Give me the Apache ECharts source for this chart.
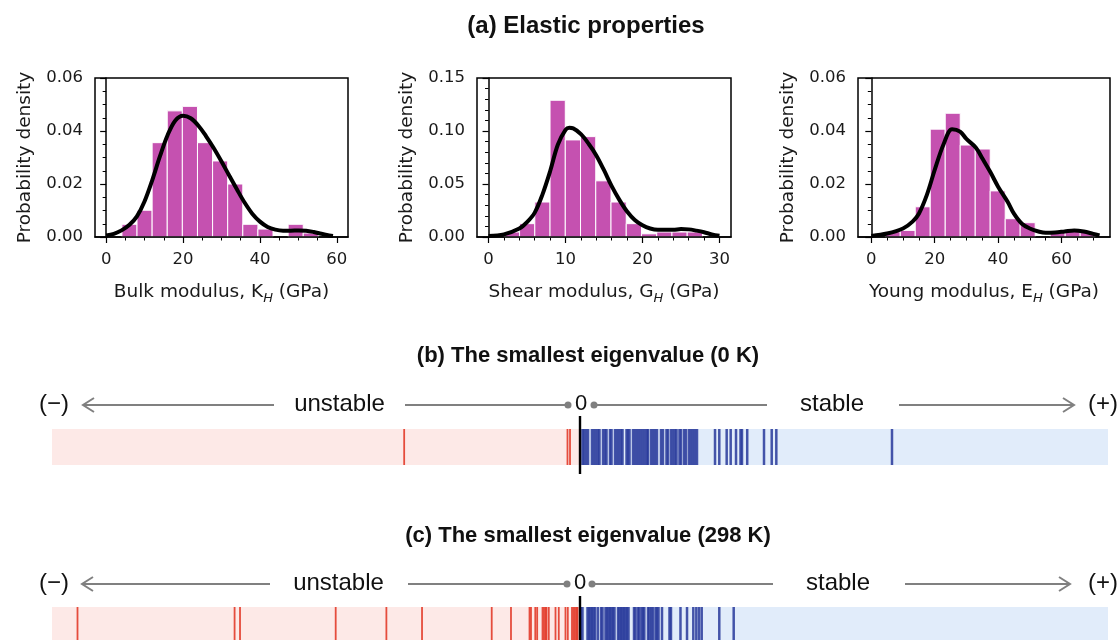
<!DOCTYPE html>
<html>
<head>
<meta charset="utf-8">
<script src="https://cdn.jsdelivr.net/npm/echarts@6/dist/echarts.min.js"></script>
<style>
  html, body { margin: 0; padding: 0; background: #fff; }
  #chart { width: 1118px; height: 640px; }
</style>
</head>
<body>
<div id="chart"></div>
<script>
// Histogram bin edges and densities
const bulkEdges = [4.1, 8.03, 11.96, 15.89, 19.82, 23.75, 27.68, 31.61, 35.54, 39.47, 43.4, 47.33, 51.26, 55.19];
const bulkDensity = [0.0048, 0.0101, 0.0356, 0.0476, 0.0493, 0.0356, 0.0287, 0.0200, 0.0048, 0.0030, 0, 0.0048, 0.0015];
const bulkKdeX = [0, 2, 4, 6, 8, 10, 12, 14, 16, 18, 20, 22, 24, 26, 28, 30, 32, 34, 36, 38, 40, 42, 44, 46, 48, 50, 52, 54, 56, 58, 59];
const bulkKdeY = [0.0006, 0.0012, 0.0025, 0.0045, 0.0078, 0.0135, 0.0215, 0.0305, 0.0385, 0.0440, 0.0458, 0.0448, 0.0420, 0.0380, 0.0335, 0.0285, 0.0232, 0.0180, 0.0130, 0.0088, 0.0058, 0.0038, 0.0028, 0.0024, 0.0024, 0.0025, 0.0024, 0.0019, 0.0012, 0.0006, 0.0004];

const shearEdges = [2.05, 4.03, 6.01, 7.99, 9.97, 11.95, 13.93, 15.91, 17.89, 19.87, 21.85, 23.83, 25.81, 27.79];
const shearDensity = [0.0047, 0.0126, 0.033, 0.129, 0.0916, 0.0947, 0.053, 0.033, 0.0126, 0.003, 0.0047, 0.0047, 0.0047];
const shearKdeX = [0, 2, 4, 5, 6, 7, 8, 9, 10, 10.5, 11, 12, 13, 14, 15, 16, 17, 18, 19, 20, 21, 22, 24, 25, 26, 27, 28, 29, 30];
const shearKdeY = [0.001, 0.0025, 0.008, 0.014, 0.023, 0.040, 0.062, 0.087, 0.101, 0.103, 0.1025, 0.097, 0.088, 0.077, 0.063, 0.048, 0.035, 0.024, 0.016, 0.011, 0.008, 0.0068, 0.0068, 0.0075, 0.0072, 0.006, 0.0045, 0.0025, 0.0012];

const youngEdges = [4.4, 9.13, 13.86, 18.59, 23.32, 28.05, 32.78, 37.51, 42.24, 46.97, 51.7, 56.43, 61.16, 65.89, 70.62];
const youngDensity = [0.002, 0.0025, 0.0114, 0.0407, 0.0467, 0.0347, 0.0332, 0.0174, 0.0069, 0.0054, 0, 0.0019, 0.0023, 0.0019];
const youngKdeX = [0, 5, 10, 13, 15, 17.5, 20, 22.8, 25.5, 28, 30, 33, 35, 37.5, 40, 43, 45, 47.5, 50, 53, 55, 58, 61, 64, 67, 70, 72];
const youngKdeY = [0.0004, 0.0013, 0.0032, 0.0058, 0.0088, 0.0158, 0.0253, 0.035, 0.0407, 0.0398, 0.037, 0.0337, 0.0297, 0.0246, 0.019, 0.0133, 0.0088, 0.005, 0.0032, 0.002, 0.0016, 0.0017, 0.0021, 0.0025, 0.0021, 0.0012, 0.0006];

// Smallest eigenvalues, position on a -100..100 scale
const eig0KUnstable = [-33.3, -2.37, -1.89];
const eig0KStable = [0.47, 0.76, 1.14, 1.52, 2.27, 2.65, 3.03, 3.41, 3.69, 4.36, 4.73, 5.02, 5.68, 5.97, 6.63, 7.01, 7.39, 7.77, 8.05, 8.81, 9.09, 9.38, 10.04, 10.42, 10.80, 11.17, 11.55, 11.93, 12.31, 12.69, 12.88, 13.45, 13.83, 14.20, 14.58, 15.34, 15.72, 16.38, 16.67, 17.23, 17.61, 17.99, 18.28, 18.84, 19.13, 19.70, 20.08, 20.64, 21.02, 21.40, 21.78, 22.16, 25.57, 26.38, 27.78, 28.54, 29.55, 30.40, 30.68, 31.67, 34.85, 36.31, 37.18, 59.09];
const eig298KUnstable = [-95.17, -65.42, -64.39, -46.27, -36.67, -29.92, -16.72, -13.07, -9.56, -9.28, -8.47, -8.11, -7.10, -6.82, -6.53, -6.34, -5.91, -4.64, -4.02, -2.75, -2.31, -1.52, -1.23, -0.95, -0.66, -0.47];
const eig298KStable = [0.15, 0.47, 1.42, 1.70, 1.99, 2.27, 2.56, 2.84, 3.37, 3.98, 4.26, 4.83, 5.11, 5.40, 5.68, 5.97, 6.25, 6.53, 7.20, 7.48, 7.77, 8.05, 8.33, 8.62, 8.90, 9.19, 10.23, 10.51, 10.98, 11.23, 11.65, 11.93, 12.18, 12.88, 13.13, 13.50, 13.79, 14.30, 14.58, 14.87, 15.53, 16.95, 17.23, 19.03, 20.27, 21.46, 22.03, 22.54, 23.05, 26.38, 29.11];

const panels = [
    { edges: bulkEdges, dens: bulkDensity, kx: bulkKdeX, ky: bulkKdeY, left: 95, width: 253,
      xmin: -2.9, xmax: 62.9, xMajor: [0, 20, 40, 60], xMinor: [5, 10, 15, 25, 30, 35, 45, 50, 55],
      ymax: 0.06, yInt: 0.02, ySplit: 4, sym: 'K' },
    { edges: shearEdges, dens: shearDensity, kx: shearKdeX, ky: shearKdeY, left: 477, width: 254,
      xmin: -1.5, xmax: 31.5, xMajor: [0, 10, 20, 30], xMinor: [2, 4, 6, 8, 12, 14, 16, 18, 22, 24, 26, 28],
      ymax: 0.15, yInt: 0.05, ySplit: 5, sym: 'G' },
    { edges: youngEdges, dens: youngDensity, kx: youngKdeX, ky: youngKdeY, left: 858, width: 252,
      xmin: -4.2, xmax: 75.3, xMajor: [0, 20, 40, 60], xMinor: [5, 10, 15, 25, 30, 35, 45, 50, 55, 65, 70],
      ymax: 0.06, yInt: 0.02, ySplit: 4, sym: 'E' }
];
const xNames = ['Bulk modulus, ', 'Shear modulus, ', 'Young modulus, '];

const grids = [], xAxes = [], yAxes = [], series = [];
const tickFont = 'DejaVu Sans';

panels.forEach((p, i) => {
    grids.push({ left: p.left, top: 78, width: p.width, height: 159, show: true,
        borderColor: '#000', borderWidth: 1.5, backgroundColor: 'transparent' });
    xAxes.push({
        gridIndex: i, type: 'value', min: p.xmin, max: p.xmax, z: 10,
        axisLine: { show: true, lineStyle: { color: '#000', width: 1.5 } },
        splitLine: { show: false },
        axisTick: { customValues: p.xMajor, length: 6, lineStyle: { color: '#000', width: 1.2 } },
        axisLabel: { customValues: p.xMajor, color: '#1a1a1a', fontSize: 16.5, fontFamily: tickFont, margin: 14 },
        name: '{a|' + xNames[i] + p.sym + '}{s|H}{a| (GPa)}',
        nameLocation: 'middle', nameGap: 42,
        nameTextStyle: {
            rich: {
                a: { fontSize: 18.5, fontFamily: tickFont, color: '#1a1a1a', lineHeight: 26 },
                s: { fontSize: 13, fontFamily: tickFont, fontStyle: 'italic', color: '#1a1a1a', lineHeight: 24, verticalAlign: 'bottom' }
            }
        }
    });
    xAxes.push({
        gridIndex: i, type: 'value', min: p.xmin, max: p.xmax, position: 'bottom',
        axisLine: { show: false }, splitLine: { show: false }, axisLabel: { show: false },
        axisTick: { customValues: p.xMinor, length: 3.5, lineStyle: { color: '#000', width: 1 } }
    });
    yAxes.push({
        gridIndex: i, type: 'value', min: 0, max: p.ymax, interval: p.yInt, z: 10,
        axisLine: { show: true, lineStyle: { color: '#000', width: 1.5 } },
        splitLine: { show: false },
        axisTick: { length: 6, lineStyle: { color: '#000', width: 1.2 } },
        minorTick: { show: true, splitNumber: p.ySplit, length: 3.5, lineStyle: { color: '#000', width: 1 } },
        axisLabel: { color: '#1a1a1a', fontSize: 16.5, fontFamily: tickFont, margin: 12, formatter: v => v.toFixed(2) },
        name: 'Probability density', nameLocation: 'middle', nameGap: 60,
        nameTextStyle: { fontSize: 18.5, fontFamily: tickFont, color: '#1a1a1a' }
    });

    const bins = [];
    for (let k = 0; k < p.dens.length; k++) {
        if (p.dens[k] > 0) bins.push([p.edges[k], p.edges[k + 1], p.dens[k]]);
    }
    series.push({
        type: 'custom', xAxisIndex: 2 * i, yAxisIndex: i, z: 2,
        encode: { x: [0, 1], y: 2 },
        data: bins,
        renderItem: (params, api) => {
            const a = api.coord([api.value(0), api.value(2)]);
            const b = api.coord([api.value(1), 0]);
            return { type: 'rect', shape: { x: a[0], y: a[1], width: b[0] - a[0], height: b[1] - a[1] },
                style: { fill: '#c551b0', stroke: '#fff', lineWidth: 1 } };
        }
    });
    series.push({
        type: 'line', xAxisIndex: 2 * i, yAxisIndex: i, z: 3,
        data: p.kx.map((x, k) => [x, p.ky[k]]),
        smooth: 0.35, showSymbol: false,
        lineStyle: { color: '#000', width: 4 }
    });
});

// eigenvalue strips
const strips = [
    { top: 429, height: 36, neg: eig0KUnstable, pos: eig0KStable, zTop: 13, zBot: 9 },
    { top: 607, height: 40, neg: eig298KUnstable, pos: eig298KStable, zTop: 11, zBot: 0 }
];
strips.forEach((s, j) => {
    const gi = 3 + j;
    grids.push({ left: 52, width: 1056, top: s.top, height: s.height });
    xAxes.push({ gridIndex: gi, type: 'value', min: -100, max: 100, show: false });
    yAxes.push({ gridIndex: gi, type: 'value', min: 0, max: 1, show: false });
    const xi = xAxes.length - 1, yi = yAxes.length - 1;
    series.push({
        type: 'custom', xAxisIndex: xi, yAxisIndex: yi, z: 1,
        data: [[-100, 0], [0, 100]],
        encode: { x: [0, 1] },
        renderItem: (params, api) => {
            const a = api.coord([api.value(0), 0]);
            const b = api.coord([api.value(1), 0]);
            const cs = params.coordSys;
            return { type: 'rect', shape: { x: a[0], y: cs.y, width: b[0] - a[0], height: cs.height },
                style: { fill: params.dataIndex === 0 ? '#fde9e7' : '#e1ecfa' } };
        }
    });
    const lineSeries = (vals, fill, op, w) => ({
        type: 'custom', xAxisIndex: xi, yAxisIndex: yi, z: 2,
        data: vals.map(v => [v]),
        encode: { x: 0 },
        renderItem: (params, api) => {
            const x = api.coord([api.value(0), 0])[0];
            const cs = params.coordSys;
            return { type: 'rect', shape: { x: x - w / 2, y: cs.y, width: w, height: cs.height },
                style: { fill: fill, opacity: op } };
        }
    });
    series.push(lineSeries(s.neg, '#e0301e', 0.85, 1.8));
    series.push(lineSeries(s.pos, '#27389a', 0.85, 2.5));
    series.push({
        type: 'custom', xAxisIndex: xi, yAxisIndex: yi, z: 4, clip: false,
        data: [[0]],
        encode: { x: 0 },
        renderItem: (params, api) => {
            const x = api.coord([0, 0])[0];
            const cs = params.coordSys;
            return { type: 'rect', shape: { x: x - 1.2, y: cs.y - s.zTop, width: 2.4, height: cs.height + s.zTop + s.zBot },
                style: { fill: '#000' } };
        }
    });
});

// arrow rows
const sans = '"Liberation Sans", Arial, sans-serif';
function arrowRow(y, p) {
    const g = '#808080';
    const txt = (x, t, size) => ({ type: 'text', x: x, y: y - 1,
        style: { text: t, font: size + 'px ' + sans, fill: '#111', align: 'center', verticalAlign: 'middle' } });
    const ln = (x1, x2) => ({ type: 'line', shape: { x1: x1, y1: y, x2: x2, y2: y }, style: { stroke: g, lineWidth: 2 } });
    return [
        txt(54, '(\u2212)', 24),
        ln(p.l1, p.l2),
        { type: 'polyline', shape: { points: [[p.l1 + 11, y - 7], [p.l1, y], [p.l1 + 11, y + 7]] }, style: { stroke: g, lineWidth: 2, fill: null } },
        txt(p.tu, 'unstable', 24),
        ln(p.m1, p.m2),
        { type: 'circle', shape: { cx: p.m2, cy: y, r: 3.5 }, style: { fill: g } },
        txt(p.zero, '0', 22),
        { type: 'circle', shape: { cx: p.n1, cy: y, r: 3.5 }, style: { fill: g } },
        ln(p.n1, p.n2),
        txt(p.ts, 'stable', 24),
        ln(p.r1, p.r2),
        { type: 'polyline', shape: { points: [[p.r2 - 11, y - 7], [p.r2, y], [p.r2 - 11, y + 7]] }, style: { stroke: g, lineWidth: 2, fill: null } },
        txt(1103, '(+)', 24)
    ];
}
const graphics = [].concat(
    arrowRow(405, { l1: 83, l2: 274, tu: 339.5, m1: 405, m2: 568, zero: 581, n1: 594, n2: 767, ts: 832, r1: 899, r2: 1074 }),
    arrowRow(584, { l1: 82, l2: 270, tu: 338.5, m1: 408, m2: 567, zero: 580, n1: 592, n2: 773, ts: 838, r1: 905, r2: 1070 })
);

const titleStyle = { fontFamily: sans, fontSize: 22, fontWeight: 'bold', color: '#111' };
const chart = echarts.init(document.getElementById('chart'));
chart.setOption({
    backgroundColor: '#fff',
    animation: false,
    title: [
        { text: '(a) Elastic properties', left: 581, top: 9, textAlign: 'center', textStyle: Object.assign({}, titleStyle, { fontSize: 24 }) },
        { text: '(b) The smallest eigenvalue (0 K)', left: 583, top: 340, textAlign: 'center', textStyle: titleStyle },
        { text: '(c) The smallest eigenvalue (298 K)', left: 583, top: 520, textAlign: 'center', textStyle: titleStyle }
    ],
    grid: grids,
    xAxis: xAxes,
    yAxis: yAxes,
    series: series,
    graphic: graphics
});
</script>
</body>
</html>
